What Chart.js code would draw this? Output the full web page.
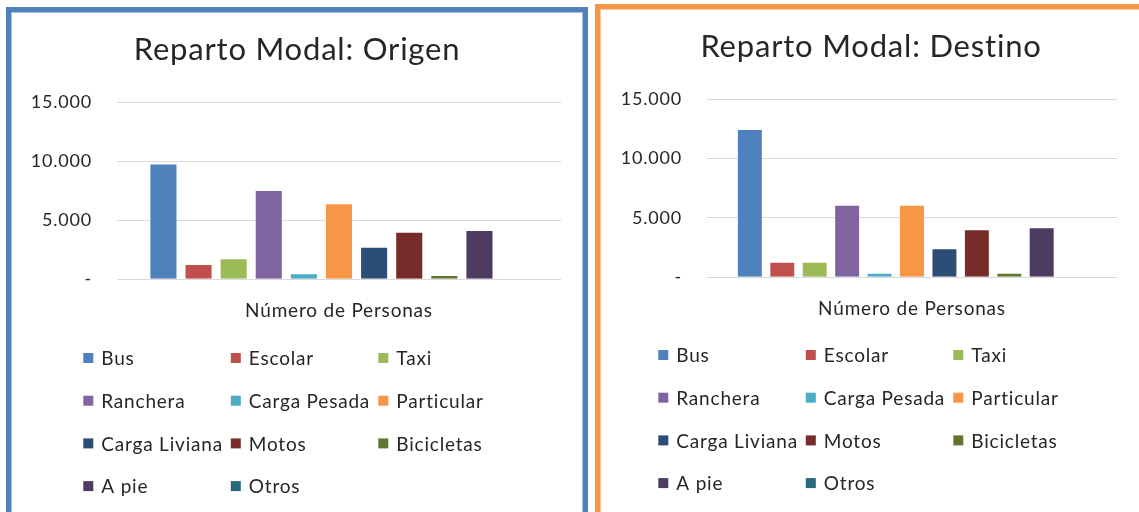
<!DOCTYPE html>
<html>
<head>
<meta charset="utf-8">
<script src="https://cdn.jsdelivr.net/npm/chart.js@4"></script>
<style>
    body { margin: 0; background: #fff; overflow: hidden; width: 1139px; height: 512px; position: relative; }
    .panel { position: absolute; box-sizing: border-box; height: 520px; background: #fff; }
    #panel_origen { left: 6px; top: 7px; width: 582px; border: 5px solid #4f81bd; box-shadow: inset 0 0 0 1px #a7c0de; }
    #panel_destino { left: 595px; top: 4px; width: 552px; border: 5px solid #f79646; box-shadow: inset 0 0 0 1px #fbcaa2; }
    canvas { display: block; }
</style>
</head>
<body>
<div class="panel" id="panel_origen"><canvas id="plot_origen" width="572" height="510"></canvas></div>
<div class="panel" id="panel_destino"><canvas id="plot_destino" width="542" height="510"></canvas></div>
<script>
const modos = ['Bus', 'Escolar', 'Taxi', 'Ranchera', 'Carga Pesada', 'Particular', 'Carga Liviana', 'Motos', 'Bicicletas', 'A pie', 'Otros'];
const colores = ['#4f81bd', '#c0504d', '#9bbb59', '#8064a2', '#4bacc6', '#f79646', '#2c4d75', '#772c2a', '#5f7530', '#4d3b62', '#276a7c'];
const categoria = ['Número de Personas'];

// personas por modo
const origen  = [9800, 1300, 1780, 7570, 510, 6440, 2760, 4030, 360, 4180, 0];
const destino = [12500, 1320, 1320, 6120, 390, 6120, 2450, 4050, 390, 4220, 0];

const eje_min = 0;
const eje_max = 15000;
const eje_paso = 5000;

const fuente = 'Lato, "Open Sans", sans-serif';
const texto = '#262626';

function formato(v)
{
    if (v == 0) return '-';
    return v.toString().replace(/\B(?=(\d{3})+(?!\d))/g, '.');
}

// letras un poco separadas, como el texto de Excel
const espaciado = {
    id: 'espaciado',
    beforeDraw(chart)
    {
        chart.ctx.letterSpacing = '0.8px';
    }
};

// leyenda en 3 columnas, como la de Excel
const leyendaGrilla = {
    id: 'leyendaGrilla',
    afterDraw(chart, args, opts)
    {
        const ctx = chart.ctx;
        ctx.save();
        ctx.font = '19px ' + fuente;
        ctx.textBaseline = 'middle';
        ctx.textAlign = 'left';
        chart.data.datasets.forEach((ds, i) =>
        {
            const x = opts.x + (i % 3) * opts.col;
            const y = opts.y + Math.floor(i / 3) * opts.fila;
            ctx.fillStyle = ds.backgroundColor;
            ctx.fillRect(x, y - 5, 10, 10);
            ctx.fillStyle = texto;
            ctx.fillText(ds.label, x + 18, y + 1);
        });
        ctx.restore();
    }
};

function grafico(id, titulo, valores, cfg)
{
    const datasets = modos.map((m, i) => ({
        label: m,
        data: [valores[i]],
        backgroundColor: colores[i],
        borderColor: 'rgba(255,255,255,0.5)',
        borderWidth: 1
    }));

    return new Chart(document.getElementById(id), {
        type: 'bar',
        data: { labels: categoria, datasets: datasets },
        plugins: [espaciado, leyendaGrilla],
        options: {
            responsive: false,
            animation: false,
            categoryPercentage: 0.87,
            barPercentage: 0.8,
            layout: { padding: { left: 0, right: 0, top: 0, bottom: cfg.abajo } },
            plugins: {
                legend: { display: false },
                tooltip: { enabled: false },
                title: {
                    display: true,
                    text: titulo,
                    color: texto,
                    font: { family: fuente, size: 31, weight: 'normal', lineHeight: 1.2 },
                    padding: { top: 19, bottom: 34 }
                },
                leyendaGrilla: { x: cfg.leyendaX, y: 346, col: 147.5, fila: 42.7 }
            },
            scales: {
                x: {
                    grid: { display: false },
                    border: { display: false },
                    ticks: { color: texto, padding: 12, font: { family: fuente, size: 19 } },
                    afterFit: s => { s.height = 40; }
                },
                y: {
                    min: eje_min,
                    max: eje_max,
                    ticks: {
                        stepSize: eje_paso,
                        padding: 25,
                        color: texto,
                        font: { family: fuente, size: 18 },
                        callback: v => formato(v)
                    },
                    grid: { color: '#d9d9d9', lineWidth: 1, drawTicks: false },
                    border: { display: false },
                    afterFit: s => { s.width = cfg.izquierda; }
                },
                // margen derecho del área de barras, sin marcas
                y_der: {
                    position: 'right',
                    grid: { display: false },
                    border: { display: false },
                    ticks: { display: false },
                    afterFit: s => { s.width = cfg.derecha; }
                }
            }
        }
    });
}

const grafico_origen  = grafico('plot_origen', 'Reparto Modal: Origen', origen,
    { izquierda: 106, derecha: 22, abajo: 202.7, leyendaX: 72.3 });
const grafico_destino = grafico('plot_destino', 'Reparto Modal: Destino', destino,
    { izquierda: 107, derecha: 25, abajo: 201.7, leyendaX: 58.3 });
</script>
</body>
</html>
